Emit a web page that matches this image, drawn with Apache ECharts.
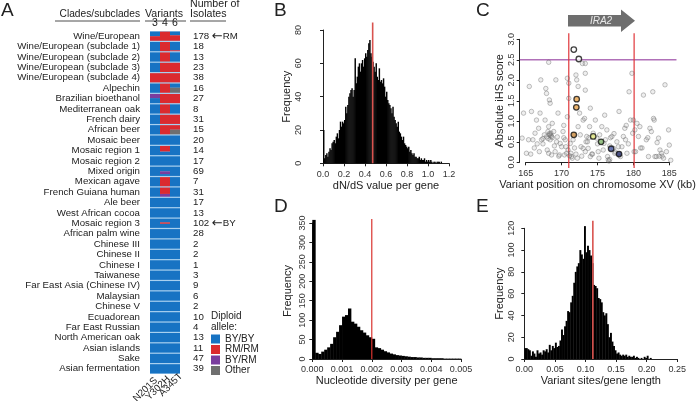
<!DOCTYPE html>
<html><head><meta charset="utf-8">
<script src="https://cdn.jsdelivr.net/npm/echarts@6/dist/echarts.min.js"></script>
<style>html,body{margin:0;padding:0;background:#fff}#c{width:699px;height:401px}</style>
</head><body><div id="c"></div>
<script>
// ---------------- DATA ----------------
const clades = ['Wine/European','Wine/European (subclade 1)','Wine/European (subclade 2)','Wine/European (subclade 3)','Wine/European (subclade 4)','Alpechin','Brazilian bioethanol','Mediterranean oak','French dairy','African beer','Mosaic beer','Mosaic region 1','Mosaic region 2','Mixed origin','Mexican agave','French Guiana human','Ale beer','West African cocoa','Mosaic region 3','African palm wine','Chinese III','Chinese II','Chinese I','Taiwanese','Far East Asia (Chinese IV)','Malaysian','Chinese V','Ecuadorean','Far East Russian','North American oak','Asian islands','Sake','Asian fermentation'];
const isolates = [178,18,13,23,38,16,27,8,31,15,20,14,17,69,7,31,17,13,102,28,2,2,1,3,9,6,2,10,4,13,11,47,39];
const refStrain = {0:'RM', 18:'BY'};
const variantIds = ['3','4','6'];
const variantNames = ['N201S','Y302H','A345T'];
const alleleNames = ['BY/BY','RM/RM','BY/RM','Other'];
// cell composition: segments [allele index, fraction] from top to bottom
const B_ = [[0,1]], R_ = [[1,1]];
const cellMix = [
  [[[0,.5],[1,.5]], R_, [[0,.4],[1,.6]]],
  [B_, R_, [[0,.9],[1,.1]]],
  [B_, R_, B_],
  [B_, R_, R_],
  [R_, R_, R_],
  [B_, R_, [[0,.45],[3,.55]]],
  [[[2,.45],[0,.55]], R_, R_],
  [B_, R_, B_],
  [B_, R_, R_],
  [B_, R_, [[1,.5],[3,.5]]],
  [B_, B_, B_],
  [B_, [[1,.6],[0,.4]], B_],
  [B_, B_, B_],
  [B_, [[0,.5],[2,.3],[0,.2]], B_],
  [B_, R_, B_],
  [B_, [[1,.7],[2,.3]], B_],
  [B_, B_, B_],
  [B_, B_, B_],
  [B_, [[0,.4],[1,.15],[0,.45]], B_],
  [B_,B_,B_],[B_,B_,B_],[B_,B_,B_],[B_,B_,B_],[B_,B_,B_],[B_,B_,B_],[B_,B_,B_],
  [B_,B_,B_],[B_,B_,B_],[B_,B_,B_],[B_,B_,B_],[B_,B_,B_],[B_,B_,B_],[B_,B_,B_]
];

// B: dN/dS histogram, bin width 0.01 from 0
const dndsBin = 0.01;
const dndsCounts = [20,3,5,6,4, 7,9,8,12,13, 14,12,16,18,15, 20,25,22,25,24, 26,34,30,35,40, 42,44,45,40,44,
  63,48,52,58,60, 55,60,62,58,63, 66,64,68,72,74, 66,64,61,58,55, 60,52,50,57,49, 50,48,51,46,40,
  43,38,36,35,33, 30,34,28,26,24, 22,25,19,18,16, 14,16,12,11,10, 9,10,7,8,6, 5,6,4,4,3,
  3,4,2,3,2, 2,3,1,2,1, 2,1,2,1,0, 1,1,0,1,1, 1,0,1];
const dndsMedian = 0.473;

// C: iHS scores
const ihsPos = [164.5,164.7,165.5,165.8,165.1,165.4,166.0,165.7,166.3,166.5,166.8,167.0,167.1,167.2,166.9,167.6,167.7,167.8,167.9,168.2,168.3,168.4,168.2,168.3,168.5,168.6,168.4,168.9,168.2,168.6,169.1,169.2,169.3,169.5,169.7,169.8,170.0,170.2,170.4,170.5,170.6,170.7,170.8,170.8,171.0,171.0,171.2,171.3,171.4,171.6,172.0,172.1,172.3,172.3,172.5,172.6,172.7,172.9,173.0,173.2,173.3,173.3,173.3,173.0,173.3,173.5,173.7,173.9,174.0,174.0,174.4,174.7,174.9,175.1,175.3,175.6,175.8,175.9,176.0,176.3,176.4,176.5,176.6,176.7,177.0,177.2,177.4,177.7,177.9,178.0,178.2,178.4,178.6,178.8,179.1,179.4,179.6,179.8,179.9,180.0,180.1,180.2,180.3,180.7,180.9,181.4,181.8,182.1,182.3,182.5,182.7,182.8,182.9,183.0,183.2,183.5,183.7,183.9,184.4,184.6,184.9,185.0,166.2,167.4,168.0,168.7,169.0,169.6,170.3,171.8,172.2,173.6,174.2,175.0,176.8,177.5,179.0,181.0,183.3,184.0,
  167.9,168.1,168.3,168.5,168.7,168.1,167.4,169.4,166.6,170.3,170.9,171.1,171.5,172.0,172.8,173.4,173.8,174.3,175.2,176.1,176.7,177.3,178.9,179.3,180.5,181.2,182.0,183.6,184.2,185.2];
const ihsScore = [0.59,1.20,1.85,1.24,0.22,0.55,0.55,0.20,0.71,1.03,0.83,1.20,2.01,0.55,0.26,0.67,1.03,1.80,1.68,2.44,1.52,1.44,0.87,0.67,0.71,0.63,0.55,0.75,0.22,0.18,0.26,2.01,0.50,1.20,0.18,0.46,0.38,0.75,0.18,0.55,0.38,0.22,1.11,2.05,1.93,1.56,0.46,0.22,0.14,0.55,2.13,2.01,1.85,0.87,1.20,0.67,0.38,2.41,1.03,1.07,1.76,2.17,2.41,0.34,0.26,0.63,0.34,0.87,1.32,0.14,0.71,1.03,0.59,0.26,0.67,0.87,0.30,0.46,1.15,0.79,0.14,0.06,0.03,0.07,0.63,0.34,0.22,0.50,0.38,1.24,0.14,0.38,0.63,0.83,0.22,1.72,1.03,2.17,0.71,1.03,0.26,0.79,0.26,0.63,0.87,1.64,0.55,0.14,0.83,0.75,1.72,1.07,1.03,0.14,0.14,0.59,0.30,0.22,1.89,0.26,0.79,0.42,0.35,0.45,0.30,0.95,0.40,0.15,0.90,0.35,0.10,0.50,0.20,0.45,0.60,0.25,0.90,0.35,0.48,0.15,
  0.62,0.58,0.70,0.66,0.60,0.75,0.58,0.62,0.45,0.60,0.30,0.16,0.10,0.20,0.15,0.50,0.60,0.20,0.10,0.55,0.40,0.70,0.55,0.45,0.95,0.35,0.60,0.15,0.10,0.05];
const hiPos = [171.7,172.4,172.1,172.05,171.7,174.4,175.5,176.9,178.0];
const hiScore = [2.75,2.52,1.54,1.34,0.67,0.63,0.50,0.33,0.20];
const hiColor = ['#ffffff','#ffffff','#e9a24a','#e9a24a','#c98a3c','#dde27a','#7fb36a','#4a5aa8','#232a6a'];
const geneBounds = [171.0, 180.1];
const ihsThreshold = 2.5;

// D: nucleotide diversity histogram, bin width 0.0001
const piBin = 0.0001;
const piCounts = [358,16,13,19,24,30,39,56,70,87, 109,113,130,96,91,83,74,68,61,56,
  52,30,28,24,20,17,14,12,10,9, 8,7,6,5,5,4,4,3,3,3, 2,2,2,2,1,1,1,1,1,1];
const piMedian = 0.002;

// E: variant sites / gene length histogram, bin width 0.0025
const vsBin = 0.0025;
const vsCounts = [10,10,9,8, 3,7,5,2, 8,5,6,4, 8,7,9,6, 13,8,12,10, 15,11,12,17, 27,22,30,35,
  44,43,52,58, 70,80,85,88, 100,96,92,122, 98,104,100,95, 88,68,67,65, 56,55,52,43, 40,42,32,20,
  24,16,12,8, 5,6,4,3, 4,3,4,2, 3,2,2,3, 1,2,1,0, 1,0,2,1, 3,0,1,0, 0,0,0,0, 0,0,0,0, 0,0,0,0, 0,0,0,0, 0,0,0,0];
const vsMedian = 0.112;

// ---------------- BUILD ----------------
const FONT = "'Liberation Sans', Arial, Helvetica, sans-serif";
const TXT = '#222';
const alleleColors = ['#1773c3','#db2a2f','#7a3d9e','#6f6f6f'];
const chart = echarts.init(document.getElementById('c'));

const alleleData = alleleNames.map(()=>[]);
cellMix.forEach((row, r) => row.forEach((cell, c) => {
  let s = 0;
  cell.forEach(([a, f]) => { alleleData[a].push([c, r, s, s + f]); s += f; });
}));

function cellRender(params, api) {
  const c = api.value(0), r = api.value(1), s = api.value(2), e = api.value(3);
  const p = api.coord([c, r]);
  const sz = api.size([1, 1]);
  const h = sz[1] - 1.2;
  const top = p[1] - sz[1] / 2 + 0.6;
  const y0 = top + s * h, y1 = top + e * h;
  return {type:'rect', shape:{x: p[0] - sz[0]/2, y: y0, width: sz[0], height: y1 - y0}, style:{fill: api.visual('color')}};
}
function histData(counts, bin){ return counts.map((v,i)=>[i*bin, (i+1)*bin, v]); }
function histRender(params, api){
  const a = api.coord([api.value(0), api.value(2)]);
  const b = api.coord([api.value(1), 0]);
  return {type:'rect', shape:{x:a[0], y:a[1], width:b[0]-a[0]+0.4, height:b[1]-a[1]}, style:{fill:'#000'}};
}
function lineRender(color, w){
  return function(params, api){
    const a = api.coord([api.value(0), api.value(1)]);
    const b = api.coord([api.value(2), api.value(3)]);
    return {type:'line', shape:{x1:a[0], y1:a[1], x2:b[0], y2:b[1]}, style:{stroke: color, lineWidth: w}};
  };
}
function valAxis(o){
  return Object.assign({
    type:'value', splitLine:{show:false},
    axisLine:{show:true, lineStyle:{color:TXT, width:1}},
    axisTick:{show:true, length:3, lineStyle:{color:TXT}},
    nameLocation:'middle', nameTextStyle:{fontSize:11, color:TXT, fontFamily:FONT}
  }, o);
}
const xLab = (fmt)=>({fontSize:9, color:'#333', fontFamily:FONT, margin:3, formatter:fmt});
const yLab = (fmt)=>({fontSize:9, color:'#333', fontFamily:FONT, margin:4, rotate:90, formatter:fmt});

const grids = [
  {left:150, top:31, width:30, height:343, show:true, backgroundColor:'#a8d0ef', borderWidth:0}, // A
  {left:323, top:30, width:126, height:133.3},  // B
  {left:525.7, top:39.3, width:143.6, height:123}, // C
  {left:312.3, top:223, width:148.7, height:136}, // D
  {left:524.3, top:228.3, width:153, height:130.7} // E
];

const option = {
  animation:false,
  textStyle:{fontFamily:FONT},
  grid: grids,
  legend: {
    data: alleleNames, orient:'vertical', left:211, top:334, itemWidth:9, itemHeight:9, itemGap:0.5,
    icon:'rect', textStyle:{fontSize:10, color:TXT, lineHeight:10, fontFamily:FONT}, selectedMode:false, padding:0
  },
  xAxis: [
    {gridIndex:0, type:'category', data:variantIds, position:'top', axisLine:{show:false}, axisTick:{show:false},
     axisLabel:{fontSize:10.5, color:TXT, margin:2}},
    valAxis({gridIndex:1, min:0, max:1.2, interval:0.2, offset:4, name:'dN/dS value per gene', nameGap:11,
      axisLabel:xLab(v=>v.toFixed(1))}),
    valAxis({gridIndex:2, min:165, max:185, interval:5, offset:4, name:'Variant position on chromosome XV (kb)', nameGap:11.5,
      axisLabel:xLab(null)}),
    valAxis({gridIndex:3, min:0, max:0.005, interval:0.001, offset:3, name:'Nucleotide diversity per gene', nameGap:13,
      axisLabel:xLab(v=>v.toFixed(3))}),
    valAxis({gridIndex:4, min:0, max:0.25, interval:0.05, offset:3, name:'Variant sites/gene length', nameGap:13,
      axisLabel:xLab(v=>v.toFixed(2))}),
    {gridIndex:0, type:'category', data:variantNames, position:'bottom', show:false}
  ],
  yAxis: [
    {gridIndex:0, type:'category', data:clades, inverse:true, axisLine:{show:false}, axisTick:{show:false},
     axisLabel:{fontSize:9.7, color:TXT, margin:10, interval:0}},
    valAxis({gridIndex:1, min:0, max:80, interval:20, offset:16, name:'Frequency', nameGap:14.5, axisLabel:yLab(null)}),
    valAxis({gridIndex:2, min:0, max:3, interval:0.5, offset:6, name:'Absolute iHS score', nameGap:12, axisLabel:yLab(v=>v.toFixed(1))}),
    valAxis({gridIndex:3, min:0, max:350, interval:50, offset:3, name:'Frequency', nameGap:15.5, axisLabel:Object.assign(yLab(null),{margin:2})}),
    valAxis({gridIndex:4, min:0, max:120, interval:20, offset:4.5, name:'Frequency', nameGap:14, axisLabel:yLab(null)}),
    {gridIndex:0, type:'category', data:clades, inverse:true, position:'right', axisLine:{show:false}, axisTick:{show:false},
     axisLabel:{fontSize:9.7, color:TXT, margin:13, align:'left', interval:0,
       formatter:(v,i)=> refStrain[i] ? isolates[i] + ' {a|\u2190}' + refStrain[i] : String(isolates[i]),
       rich:{a:{fontSize:13, fontFamily:'DejaVu Sans', color:TXT}}}}
  ],
  series: [
    ...alleleNames.map((n,i)=>({type:'custom', name:n, xAxisIndex:0, yAxisIndex:0, renderItem:cellRender,
      itemStyle:{color:alleleColors[i]}, data:alleleData[i], encode:{x:0, y:1}})),
    {type:'custom', xAxisIndex:1, yAxisIndex:1, renderItem:histRender, data:histData(dndsCounts,dndsBin), encode:{x:[0,1], y:2}},
    {type:'custom', xAxisIndex:1, yAxisIndex:1, renderItem:lineRender('#d9534f',1.6), data:[[dndsMedian,0,dndsMedian,84.5]], clip:false, z:5},
    {type:'custom', xAxisIndex:2, yAxisIndex:2, renderItem:lineRender('#b070b8',1.4), data:[[164.2,ihsThreshold,186,ihsThreshold]], clip:false, z:1},
    {type:'custom', xAxisIndex:2, yAxisIndex:2, renderItem:lineRender('#e0363a',1.2), data:geneBounds.map(g=>[g,-0.14,g,3.15]), clip:false, z:1},
    {type:'scatter', xAxisIndex:2, yAxisIndex:2, clip:false, symbolSize:4.5, data:ihsPos.map((x,i)=>[x, ihsScore[i]]),
      itemStyle:{color:'rgba(110,110,110,0.15)', borderColor:'rgba(100,100,100,0.55)', borderWidth:0.9}, z:2},
    {type:'scatter', xAxisIndex:2, yAxisIndex:2, clip:false, symbolSize:5.5, data:hiPos.map((x,i)=>({value:[x, hiScore[i]], itemStyle:{color:hiColor[i]}})),
      itemStyle:{borderColor:'#111', borderWidth:1.3}, z:3},
    {type:'custom', xAxisIndex:3, yAxisIndex:3, renderItem:histRender, data:histData(piCounts,piBin), encode:{x:[0,1], y:2}, clip:false},
    {type:'custom', xAxisIndex:3, yAxisIndex:3, renderItem:lineRender('#d9342f',1.2), data:[[piMedian,0,piMedian,360]], clip:false, z:5},
    {type:'custom', xAxisIndex:4, yAxisIndex:4, renderItem:histRender, data:histData(vsCounts,vsBin), encode:{x:[0,1], y:2}},
    {type:'custom', xAxisIndex:4, yAxisIndex:4, renderItem:lineRender('#d9534f',1.6), data:[[vsMedian,0,vsMedian,127]], clip:false, z:5}
  ],
  graphic: [
    {type:'text', left:1, top:1, style:{text:'A', fontSize:19, fill:TXT, fontFamily:FONT}},
    {type:'text', left:274, top:1, style:{text:'B', fontSize:19, fill:TXT, fontFamily:FONT}},
    {type:'text', left:476, top:1, style:{text:'C', fontSize:19, fill:TXT, fontFamily:FONT}},
    {type:'text', left:274, top:197, style:{text:'D', fontSize:19, fill:TXT, fontFamily:FONT}},
    {type:'text', left:476, top:197, style:{text:'E', fontSize:19, fill:TXT, fontFamily:FONT}},
    {type:'text', right:699-140, top:9, style:{text:'Clades/subclades', fontSize:10.2, fill:TXT, fontFamily:FONT}},
    {type:'line', shape:{x1:55, y1:21, x2:140, y2:21}, style:{stroke:TXT, lineWidth:0.8}},
    {type:'text', left:145, top:9, style:{text:'Variants', fontSize:10.6, fill:TXT, fontFamily:FONT}},
    {type:'line', shape:{x1:145, y1:21, x2:186, y2:21}, style:{stroke:TXT, lineWidth:0.8}},
    {type:'text', left:190, top:-1, style:{text:'Number of', fontSize:10.6, fill:TXT, fontFamily:FONT}},
    {type:'text', left:190, top:9, style:{text:'Isolates', fontSize:10.6, fill:TXT, fontFamily:FONT}},
    {type:'line', shape:{x1:190, y1:21, x2:226, y2:21}, style:{stroke:TXT, lineWidth:0.8}},
    {type:'text', left:211, top:311, style:{text:'Diploid\nallele:', fontSize:10, lineHeight:10.5, fill:TXT, fontFamily:FONT}},
    ...variantNames.map((n,i)=>({type:'text', x:[156,168.5,181][i], y:[379,377.5,374.5][i], rotation:Math.PI/4,
      style:{text:n, fontSize:9.8, fill:TXT, fontFamily:FONT, align:'right', verticalAlign:'middle'}})),
    {type:'polygon', shape:{points:[[568,15],[621,15],[621,9.5],[635,20.7],[621,32],[621,26.5],[568,26.5]]}, style:{fill:'#6e6e6e'}},
    {type:'text', x:601, y:21, style:{text:'IRA2', fontSize:10, fontStyle:'italic', fill:'#e8e8e8', fontFamily:FONT, align:'center', verticalAlign:'middle'}}
  ]
};
chart.setOption(option);
</script></body></html>
